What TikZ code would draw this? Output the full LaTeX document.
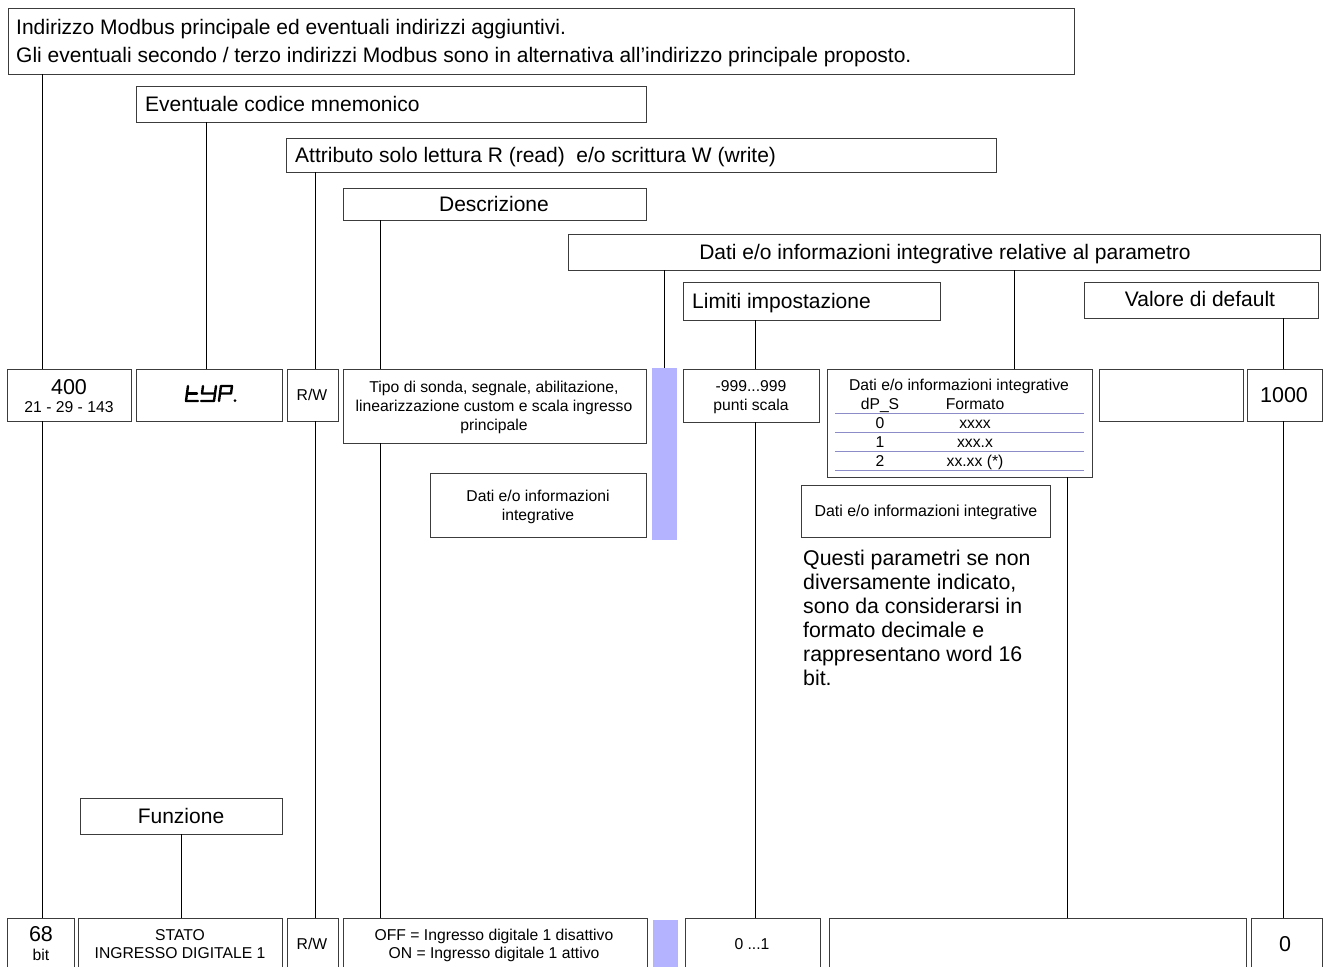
\documentclass[tikz,border=0pt]{standalone}
\usepackage{fontspec}
\setmainfont{Liberation Sans}
\usetikzlibrary{fit}
\definecolor{barblue}{RGB}{179,179,255}
\definecolor{rowline}{RGB}{140,140,200}
\definecolor{boxgray}{RGB}{60,60,60}
\tikzset{
  bx/.style={draw=boxgray, line width=0.9pt, inner sep=0pt},
  conn/.style={draw=black, line width=0.9pt},
  tL/.style={inner sep=0pt, yshift=-2pt, text height=15.5pt, text depth=4.6pt, font=\fontsize{21}{24}\selectfont},
  tM/.style={inner sep=0pt, yshift=-2pt, text height=15.9pt, text depth=4.7pt, font=\fontsize{21.5}{25}\selectfont},
  tS/.style={inner sep=0pt, yshift=-1.5pt, text height=11.6pt, text depth=3.5pt, font=\fontsize{15.7}{18}\selectfont},
  tP/.style={inner sep=0pt, yshift=-2pt, text height=15.8pt, text depth=4.7pt, font=\fontsize{21.3}{24}\selectfont},
  seg/.style={line width=2.4pt, line cap=round, line join=round},
  bar/.style={fill=barblue, draw=none, inner sep=0pt},
  rowsep/.style={draw=rowline, line width=0.8pt}
}
\begin{document}
\begin{tikzpicture}[x=1pt,y=-1pt]
\clip (0,0) rectangle (1324,966);
\useasboundingbox (0,0) rectangle (1324,966);
\fill[white] (0,0) rectangle (1324,966);

% ---------- header boxes ----------
\node[bx, fit={(8,8)(1074,74)}] (A) {};
\node[tL, anchor=west] (Atxt1) at (16,27) {Indirizzo Modbus principale ed eventuali indirizzi aggiuntivi.};
\node[tL, anchor=west] (Atxt2) at (16,55) {Gli eventuali secondo / terzo indirizzi Modbus sono in alternativa all’indirizzo principale proposto.};

\node[bx, fit={(136,86)(646,122)}] (B) {};
\node[tL, anchor=west] (Btxt) at (145,104) {Eventuale codice mnemonico};

\node[bx, fit={(286,138)(996,172)}] (C) {};
\node[tL, anchor=west] (Ctxt) at (295,155) {Attributo solo lettura R (read)\ \ e/o scrittura W (write)};

\node[bx, fit={(343,188)(646,220)}] (D) {};
\node[tL] (Dtxt) at (494,204) {Descrizione};

\node[bx, fit={(568,234)(1320,270)}] (E) {};
\node[tL] (Etxt) at (945,252) {Dati e/o informazioni integrative relative al parametro};

\node[bx, fit={(683,282)(940,320)}] (F) {};
\node[tL, anchor=west] (Ftxt) at (692,301) {Limiti impostazione};

\node[bx, fit={(1084,282)(1318,318)}] (G) {};
\node[tL] (Gtxt) at (1200,299) {Valore di default};

% ---------- first row ----------
\node[bx, fit={(7,369)(131,421)}] (R1a) {};
\node[tM] (R1a1) at (69,387) {400};
\node[tS] (R1a2) at (69,407) {21 - 29 - 143};

\node[bx, fit={(136,369)(282,421)}] (R1b) {};
% 7-segment "tYP."
\draw[seg] (188,386) -- (186,401) -- (198,401);
\draw[seg] (187,393.5) -- (197,393.5);
\draw[seg] (203,386) -- (202,393.5) -- (215,393.5);
\draw[seg] (216,386) -- (215,393.5) -- (214,401) -- (201,401);
\draw[seg] (219,401) -- (221,386) -- (232,386) -- (231,393.5) -- (220,393.5);
\fill (235,400.5) circle (1.5);

\node[bx, fit={(287,369)(338,421)}] (R1c) {};
\node[tS] (R1ct) at (312,395) {R/W};

\node[bx, fit={(343,369)(646,443)}] (R1d) {};
\node[tS] (R1d1) at (494,387) {Tipo di sonda, segnale, abilitazione,};
\node[tS] (R1d2) at (494,406) {linearizzazione custom e scala ingresso};
\node[tS] (R1d3) at (494,425) {principale};

\node[bar, fit={(652,368)(677,540)}] (bar1) {};

\node[bx, fit={(430,473)(646,537)}] (R1e) {};
\node[tS] (R1e1) at (538,496) {Dati e/o informazioni};
\node[tS] (R1e2) at (538,515) {integrative};

\node[bx, fit={(683,369)(819,422)}] (R1f) {};
\node[tS] (R1f1) at (751,386) {-999...999};
\node[tS] (R1f2) at (751,405) {punti scala};

\node[bx, fit={(827,369)(1092,477)}] (R1g) {};
\node[tS] (Tt) at (959,385) {Dati e/o informazioni integrative};
\node[tS] (Th1) at (880,404) {dP\_S};
\node[tS] (Th2) at (975,404) {Formato};
\coordinate (L1) at (835,413); \coordinate (L1e) at (1084,413);
\coordinate (L2) at (835,432); \coordinate (L2e) at (1084,432);
\coordinate (L3) at (835,451); \coordinate (L3e) at (1084,451);
\coordinate (L4) at (835,470); \coordinate (L4e) at (1084,470);
\draw[rowsep] (L1) -- (L1e);
\draw[rowsep] (L2) -- (L2e);
\draw[rowsep] (L3) -- (L3e);
\draw[rowsep] (L4) -- (L4e);
\node[tS] (Ta0) at (880,423) {0};
\node[tS] (Tb0) at (975,423) {xxxx};
\node[tS] (Ta1) at (880,442) {1};
\node[tS] (Tb1) at (975,442) {xxx.x};
\node[tS] (Ta2) at (880,461) {2};
\node[tS] (Tb2) at (975,461) {xx.xx (*)};

\node[bx, fit={(801,485)(1050,537)}] (R1h) {};
\node[tS, font=\fontsize{15.9}{18}\selectfont] (R1ht) at (926,511) {Dati e/o informazioni integrative};

\node[bx, fit={(1099,369)(1243,421)}] (R1i) {};
\node[bx, fit={(1247,369)(1322,421)}] (R1j) {};
\node[tM] (R1jt) at (1284,395) {1000};

% paragraph
\node[tP, anchor=west] (P1) at (803,558) {Questi parametri se non};
\node[tP, anchor=west] (P2) at (803,582) {diversamente indicato,};
\node[tP, anchor=west] (P3) at (803,606) {sono da considerarsi in};
\node[tP, anchor=west] (P4) at (803,630) {formato decimale e};
\node[tP, anchor=west] (P5) at (803,654) {rappresentano word 16};
\node[tP, anchor=west] (P6) at (803,678) {bit.};

% Funzione
\node[bx, fit={(80,798)(282,834)}] (Fz) {};
\node[tL] (Fzt) at (181,816) {Funzione};

% ---------- bottom row ----------
\node[bx, fit={(7,918)(74,975)}] (R2a) {};
\node[tM] (R2a1) at (41,934) {68};
\node[tS] (R2a2) at (41,955) {bit};

\node[bx, fit={(78,918)(282,975)}] (R2b) {};
\node[tS] (R2b1) at (180,935) {STATO};
\node[tS] (R2b2) at (180,953) {INGRESSO DIGITALE 1};

\node[bx, fit={(287,918)(338,975)}] (R2c) {};
\node[tS] (R2ct) at (312,944) {R/W};

\node[bx, fit={(343,918)(647,975)}] (R2d) {};
\node[tS] (R2d1) at (494,935) {OFF = Ingresso digitale 1 disattivo};
\node[tS] (R2d2) at (494,953) {ON = Ingresso digitale 1 attivo};

\node[bar, fit={(653,920)(678,975)}] (bar2) {};

\node[bx, fit={(685,918)(820,975)}] (R2e) {};
\node[tS] (R2et) at (752,944) {0 ...1};

\node[bx, fit={(829,918)(1246,975)}] (R2f) {};

\node[bx, fit={(1251,918)(1322,975)}] (R2g) {};
\node[tM] (R2gt) at (1285,944) {0};

% ---------- connectors ----------
\coordinate (x42) at (42,0);
\coordinate (x206) at (206,0);
\coordinate (x315) at (315,0);
\coordinate (x380) at (380,0);
\coordinate (x664) at (664,0);
\coordinate (x1014) at (1014,0);
\coordinate (x755) at (755,0);
\coordinate (x1283) at (1283,0);
\coordinate (x1067) at (1067,0);
\coordinate (x181) at (181,0);

\draw[conn] (A.south -| x42) -- (R1a.north -| x42);
\draw[conn] (R1a.south -| x42) -- (R2a.north -| x42);
\draw[conn] (B.south -| x206) -- (R1b.north -| x206);
\draw[conn] (C.south -| x315) -- (R1c.north -| x315);
\draw[conn] (R1c.south -| x315) -- (R2c.north -| x315);
\draw[conn] (D.south -| x380) -- (R1d.north -| x380);
\draw[conn] (R1d.south -| x380) -- (R2d.north -| x380);
\draw[conn] (E.south -| x664) -- (bar1.north -| x664);
\draw[conn] (E.south -| x1014) -- (R1g.north -| x1014);
\draw[conn] (F.south -| x755) -- (R1f.north -| x755);
\draw[conn] (R1f.south -| x755) -- (R2e.north -| x755);
\draw[conn] (G.south -| x1283) -- (R1j.north -| x1283);
\draw[conn] (R1j.south -| x1283) -- (R2g.north -| x1283);
\draw[conn] (R1g.south -| x1067) -- (R2f.north -| x1067);
\draw[conn] (Fz.south -| x181) -- (R2b.north -| x181);
\end{tikzpicture}
\end{document}
